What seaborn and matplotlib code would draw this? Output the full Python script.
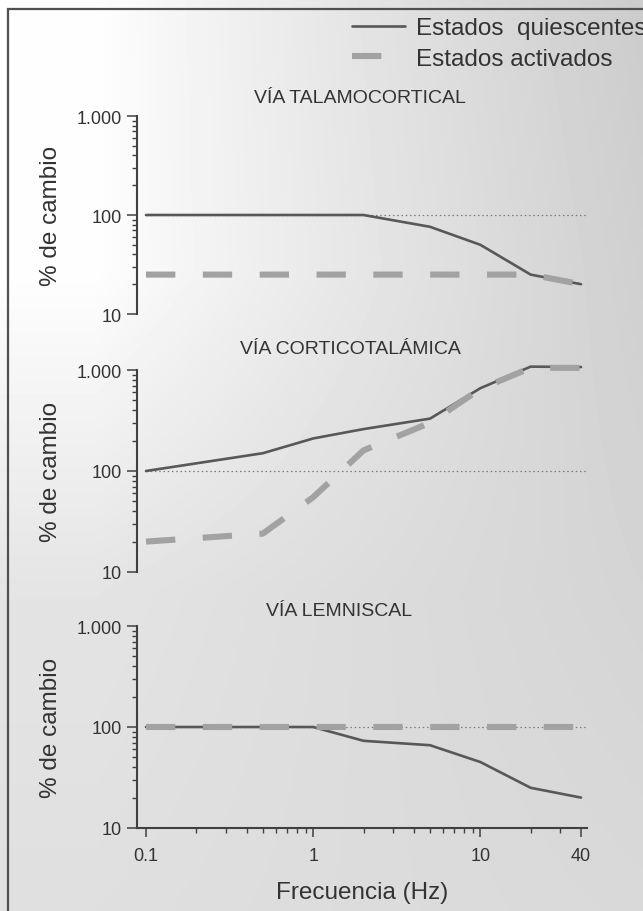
import numpy as np
import pandas as pd
import matplotlib
matplotlib.use("Agg")
import matplotlib.pyplot as plt
import seaborn as sns
from matplotlib.ticker import FixedLocator, FixedFormatter, NullFormatter
from matplotlib.lines import Line2D
from matplotlib.patches import Rectangle

# ---------------- data ----------------
freq = [0.1, 0.5, 1, 2, 5, 10, 20, 40]
talamo_quiescente = [100, 100, 100, 100, 76, 50, 25, 20]
talamo_activado = [25, 25, 25, 25, 25, 25, 25, 20]
cortico_quiescente = [100, 150, 210, 260, 330, 660, 1080, 1070]
cortico_activado = [20, 24, 55, 160, 300, 650, 1050, 1050]
lemnis_quiescente = [100, 100, 100, 73, 66, 45, 25, 20]
lemnis_activado = [100, 100, 100, 100, 100, 100, 100, 100]

panel_titles = ["VÍA TALAMOCORTICAL", "VÍA CORTICOTALÁMICA", "VÍA LEMNISCAL"]
series_names = ["Estados  quiescentes", "Estados activados"]
y_tick_values = [10, 100, 1000]
y_tick_labels = ["10", "100", "1.000"]
x_tick_values = [0.1, 1, 10, 40]
x_tick_labels = ["0.1", "1", "10", "40"]
y_label = "% de cambio"
x_label = "Frecuencia (Hz)"

panels = [
    (talamo_quiescente, talamo_activado),
    (cortico_quiescente, cortico_activado),
    (lemnis_quiescente, lemnis_activado),
]

rows = []
for title, (q, a) in zip(panel_titles, panels):
    for f, v in zip(freq, q):
        rows.append({"via": title, "estado": series_names[0], "freq": f, "val": v})
    for f, v in zip(freq, a):
        rows.append({"via": title, "estado": series_names[1], "freq": f, "val": v})
df = pd.DataFrame(rows)

# ---------------- style ----------------
sns.set_style("ticks")
plt.rcParams["font.family"] = ["Liberation Sans", "DejaVu Sans"]
plt.rcParams["text.color"] = "#333333"
plt.rcParams["axes.labelcolor"] = "#333333"
plt.rcParams["xtick.color"] = "#404040"
plt.rcParams["ytick.color"] = "#404040"
plt.rcParams["xtick.labelcolor"] = "#333333"
plt.rcParams["ytick.labelcolor"] = "#333333"

W, H = 643, 912
fig = plt.figure(figsize=(W / 100, H / 100), dpi=100)

# background gradient
bg = fig.add_axes([0, 0, 1, 1], zorder=-10)
u = np.linspace(0, 1, 200)[None, :]
w = np.linspace(0, 1, 300)[:, None]
left_val = 0.995 - 0.10 * np.clip((w - 0.30) / 0.35, 0, 1) - 0.02 * np.clip((w - 0.65) / 0.35, 0, 1)
right_val = 0.80 + 0.05 * w
t = np.clip((u - 0.15) / 0.85, 0, 1) ** 0.9
img = left_val + (right_val - left_val) * t
bg.imshow(img, cmap="gray", vmin=0, vmax=1, aspect="auto", extent=[0, 1, 0, 1], interpolation="bilinear")
bg.set_axis_off()

# border
fig.patches.append(Rectangle((8 / W, -0.05), 1.2, 1 - 10 / H + 0.05, transform=fig.transFigure,
                             fill=False, edgecolor="#505050", linewidth=1.6, zorder=5))

left = 137 / W
width = 450 / W
axes_px = [(117, 315), (371, 573), (627, 829)]
title_px = [(360, 98), (350, 350), (339, 612)]

palette = {series_names[0]: "#585858", series_names[1]: "#a2a2a2"}
dashes = {series_names[0]: "", series_names[1]: (4.8, 4.5)}
sizes = {series_names[0]: 1.9, series_names[1]: 4.4}

xmin_lim = 0.1 * 10 ** (-(146 - 137) / 167)
xmax_lim = 40 * 10 ** ((587 - 581) / 167)

minor_x = [m * d for d in (0.1, 1, 10) for m in range(2, 10) if m * d < 40]
minor_y = [m * d for d in (10, 100) for m in range(2, 10)]

for i, (title, (top, bot)) in enumerate(zip(panel_titles, axes_px)):
    ax = fig.add_axes([left, 1 - bot / H, width, (bot - top) / H])
    ax.set_facecolor("none")
    sub = df[df["via"] == title]
    ax.set_xscale("log")
    ax.set_yscale("log")
    ax.axhline(100, xmin=(146 - 137) / 450, xmax=1, color="#7a7a7a", lw=0.9,
               linestyle=(0, (1.2, 2.2)), zorder=1)
    sns.lineplot(data=sub, x="freq", y="val", hue="estado", style="estado", size="estado",
                 hue_order=series_names, style_order=series_names, size_order=series_names,
                 palette=palette, dashes=dashes, sizes=sizes, legend=False, ax=ax,
                 estimator=None, sort=False, zorder=3)
    for ln in ax.get_lines()[1:]:
        ln.set_solid_joinstyle("round")
        ln.set_clip_on(False)
    ax.set_xlim(xmin_lim, xmax_lim)
    ax.set_ylim(10, 1000)
    ax.yaxis.set_major_locator(FixedLocator(y_tick_values))
    ax.yaxis.set_major_formatter(FixedFormatter(y_tick_labels))
    ax.yaxis.set_minor_locator(FixedLocator(minor_y))
    ax.yaxis.set_minor_formatter(NullFormatter())
    ax.tick_params(axis="y", which="major", length=7, width=1.1, pad=4, labelsize=13)
    ax.tick_params(axis="y", which="minor", length=3.5, width=1.0)
    for s in ("top", "right"):
        ax.spines[s].set_visible(False)
    ax.spines["left"].set_linewidth(1.5)
    ax.spines["left"].set_color("#404040")
    ax.set_ylabel(y_label, fontsize=17.5)
    ax.yaxis.set_label_coords((62 - 137) / 450, 0.5)
    tx, ty = title_px[i]
    ax.text((tx - 137) / 450, (top - ty) / (bot - top) + 1, title, transform=ax.transAxes,
            ha="center", va="center", fontsize=14)
    if i < 2:
        ax.spines["bottom"].set_visible(False)
        ax.tick_params(axis="x", which="both", bottom=False, labelbottom=False)
        ax.set_xlabel("")
    else:
        ax.spines["bottom"].set_linewidth(1.5)
        ax.spines["bottom"].set_color("#404040")
        ax.xaxis.set_major_locator(FixedLocator(x_tick_values))
        ax.xaxis.set_major_formatter(FixedFormatter(x_tick_labels))
        ax.xaxis.set_minor_locator(FixedLocator(minor_x))
        ax.xaxis.set_minor_formatter(NullFormatter())
        ax.tick_params(axis="x", which="major", length=6.5, width=1.1, pad=7.5, labelsize=13)
        ax.tick_params(axis="x", which="minor", length=3.5, width=1.0)
        ax.set_xlabel(x_label, fontsize=17.5, labelpad=12)

# legend
handles = [
    Line2D([], [], color=palette[series_names[0]], lw=sizes[series_names[0]]),
    Line2D([], [], color=palette[series_names[1]], lw=sizes[series_names[1]], dashes=dashes[series_names[1]]),
]
fig.legend(handles, series_names, loc="upper left", bbox_to_anchor=(352 / W, 1 - 18 / H),
           frameon=False, fontsize=17.5, handlelength=2.18, handletextpad=0.45,
           borderpad=0, borderaxespad=0, labelspacing=0.36)

fig.savefig("out.png", dpi=100)
